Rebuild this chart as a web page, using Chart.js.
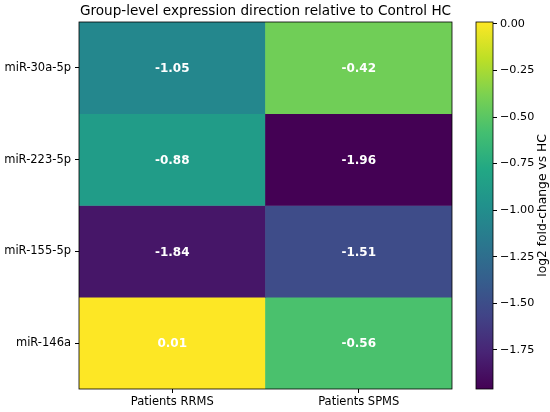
<!DOCTYPE html>
<html>
<head>
<meta charset="utf-8">
<script src="https://cdn.jsdelivr.net/npm/chart.js@4/dist/chart.umd.min.js"></script>
<style>
  html, body { margin: 0; padding: 0; background: #fff; }
  #wrap { position: relative; width: 550px; height: 412px; }
  #heatBox { position: absolute; left: 0; top: 0; width: 460px; height: 412px; }
  #barBox { position: absolute; left: 470px; top: 0; width: 80px; height: 412px; }
</style>
</head>
<body>
<div id="wrap">
  <div id="heatBox"><canvas id="heat"></canvas></div>
  <div id="barBox"><canvas id="cbar"></canvas></div>
</div>
<script>
// datos
const rows = ['miR-30a-5p', 'miR-223-5p', 'miR-155-5p', 'miR-146a'];
const groups = ['Patients RRMS', 'Patients SPMS'];
const rrms = [-1.05, -0.88, -1.84, 0.01];
const spms = [-0.42, -1.96, -1.51, -0.56];
const cbarTicks = [-1.75, -1.5, -1.25, -1.0, -0.75, -0.5, -0.25, 0.0];
const vmin = -1.96;
const vmax = 0.01;

const FONT = 'DejaVu Sans';
const TICK = 11.5;

// viridis (paradas cada 0.1)
const viridis = ['#440154', '#482475', '#414487', '#355f8d', '#2a788e', '#21918c',
                 '#22a884', '#44bf70', '#7ad151', '#bddf26', '#fde725'];

function hexToRgb(h) {
    return [parseInt(h.slice(1, 3), 16), parseInt(h.slice(3, 5), 16), parseInt(h.slice(5, 7), 16)];
}

function colorFor(v) {
    let t = (v - vmin) / (vmax - vmin);
    t = Math.max(0, Math.min(1, t));
    const pos = t * (viridis.length - 1);
    const i = Math.min(Math.floor(pos), viridis.length - 2);
    const f = pos - i;
    const a = hexToRgb(viridis[i]), b = hexToRgb(viridis[i + 1]);
    const c = a.map((x, k) => Math.round(x + (b[k] - x) * f));
    return `rgb(${c[0]},${c[1]},${c[2]})`;
}

function fmtMinus(v) {
    return v.toFixed(2).replace('-', '\u2212');
}

// borde negro alrededor del área
const frame = {
    id: 'frame',
    afterDraw(chart) {
        const a = chart.chartArea, c = chart.ctx;
        c.save();
        c.strokeStyle = '#000';
        c.lineWidth = 0.8;
        c.strokeRect(a.left, a.top, a.right - a.left, a.bottom - a.top);
        c.restore();
    }
};

// valores dentro de cada celda + título
const heatText = {
    id: 'heatText',
    afterDatasetsDraw(chart) {
        const c = chart.ctx;
        c.save();
        c.fillStyle = '#fff';
        c.font = 'bold 12px ' + FONT;
        c.textAlign = 'center';
        c.textBaseline = 'middle';
        chart.data.datasets.forEach((ds, r) => {
            const meta = chart.getDatasetMeta(r);
            meta.data.forEach((el, g) => {
                const v = g === 0 ? rrms[r] : spms[r];
                c.fillText(v.toFixed(2), el.x, (el.y + el.base) / 2 + 1);
            });
        });
        const a = chart.chartArea;
        c.fillStyle = '#000';
        c.font = '13.6px ' + FONT;
        c.textBaseline = 'alphabetic';
        c.fillText('Group-level expression direction relative to Control HC', (a.left + a.right) / 2, 15);
        c.restore();
    }
};

new Chart(document.getElementById('heat'), {
    type: 'bar',
    data: {
        labels: groups,
        datasets: rows.map((name, r) => ({
            label: name,
            data: [[r, r + 1], [r, r + 1]],
            backgroundColor: [colorFor(rrms[r]), colorFor(spms[r])],
            borderWidth: 0,
            barPercentage: 1,
            categoryPercentage: 1,
            grouped: false
        }))
    },
    options: {
        responsive: true,
        maintainAspectRatio: false,
        animation: false,
        layout: { padding: { top: 22, right: 8, left: 0, bottom: 0 } },
        plugins: { legend: { display: false }, tooltip: { enabled: false }, title: { display: false } },
        scales: {
            x: {
                grid: { offset: false, drawOnChartArea: false, drawTicks: true, tickLength: 4, color: '#000' },
                border: { display: false },
                ticks: { color: '#000', font: { family: FONT, size: TICK }, padding: 2, maxRotation: 0 },
                afterFit(s) { s.height = 23; }
            },
            y: {
                min: 0,
                max: 4,
                reverse: true,
                grid: { drawOnChartArea: false, drawTicks: true, tickLength: 4, color: '#000' },
                border: { display: false },
                afterBuildTicks(s) { s.ticks = rows.map((_, i) => ({ value: i + 0.5 })); },
                ticks: {
                    color: '#000',
                    font: { family: FONT, size: TICK },
                    padding: 4,
                    callback: (v) => rows[Math.floor(v)]
                },
                afterFit(s) { s.width = 79; }
            }
        }
    },
    plugins: [frame, heatText]
});

// barra de color
const cbarLabel = {
    id: 'cbarLabel',
    afterDraw(chart) {
        const c = chart.ctx;
        const a = chart.chartArea;
        c.save();
        c.fillStyle = '#000';
        c.font = '12.3px ' + FONT;
        c.textAlign = 'center';
        c.textBaseline = 'middle';
        c.translate(72.5, (a.top + a.bottom) / 2);
        c.rotate(-Math.PI / 2);
        c.fillText('log2 fold-change vs HC', 0, 0);
        c.restore();
    }
};

new Chart(document.getElementById('cbar'), {
    type: 'bar',
    data: {
        labels: [''],
        datasets: [{
            data: [[vmin, vmax]],
            borderWidth: 0,
            barPercentage: 1,
            categoryPercentage: 1,
            backgroundColor(ctx) {
                const chart = ctx.chart;
                const y = chart.scales.y;
                if (!y || !chart.chartArea) return viridis[5];
                const g = chart.ctx.createLinearGradient(0, y.getPixelForValue(vmin), 0, y.getPixelForValue(vmax));
                viridis.forEach((col, i) => g.addColorStop(i / (viridis.length - 1), col));
                return g;
            }
        }]
    },
    options: {
        responsive: true,
        maintainAspectRatio: false,
        animation: false,
        layout: { padding: { top: 22, bottom: 23, left: 6, right: 0 } },
        plugins: { legend: { display: false }, tooltip: { enabled: false } },
        scales: {
            x: { display: false },
            y: {
                position: 'right',
                min: vmin,
                max: vmax,
                grid: { drawOnChartArea: false, drawTicks: true, tickLength: 4, color: '#000' },
                border: { display: false },
                afterBuildTicks(s) { s.ticks = cbarTicks.map(v => ({ value: v })); },
                ticks: {
                    color: '#000',
                    font: { family: FONT, size: 11.2 },
                    padding: 3,
                    callback: (v) => fmtMinus(v)
                },
                afterFit(s) { s.width = 57; }
            }
        }
    },
    plugins: [frame, cbarLabel]
});
</script>
</body>
</html>
